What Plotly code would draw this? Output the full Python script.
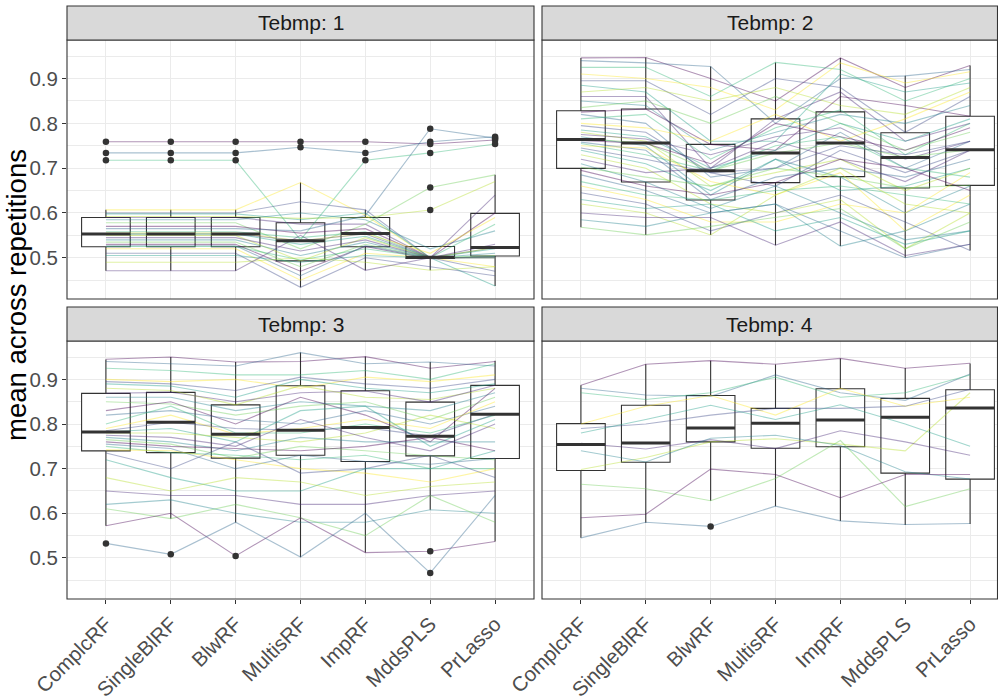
import plotly.graph_objects as go

# ---------------- data ----------------
methods = ["ComplcRF", "SingleBlRF", "BlwRF", "MultisRF", "ImpRF", "MddsPLS", "PrLasso"]
panel_titles = ["Tebmp: 1", "Tebmp: 2", "Tebmp: 3", "Tebmp: 4"]
y_ticks = [0.5, 0.6, 0.7, 0.8, 0.9]

# box statistics per panel (one value per method)
p1_q1 = [0.5246, 0.5246, 0.5246, 0.493, 0.5246, 0.4985, 0.5038]
p1_med = [0.553, 0.553, 0.553, 0.538, 0.554, 0.501, 0.523]
p1_q3 = [0.590, 0.590, 0.590, 0.578, 0.590, 0.525, 0.599]
p1_lo = [0.471, 0.471, 0.471, 0.434, 0.472, 0.472, 0.437]
p1_hi = [0.607, 0.607, 0.607, 0.668, 0.607, 0.525, 0.6855]

p2_q1 = [0.6996, 0.669, 0.629, 0.6676, 0.681, 0.6556, 0.6616]
p2_med = [0.764, 0.756, 0.694, 0.734, 0.756, 0.724, 0.741]
p2_q3 = [0.828, 0.832, 0.753, 0.810, 0.8256, 0.779, 0.816]
p2_lo = [0.568, 0.551, 0.551, 0.528, 0.526, 0.500, 0.516]
p2_hi = [0.946, 0.947, 0.927, 0.936, 0.946, 0.906, 0.929]

p3_q1 = [0.7398, 0.736, 0.7235, 0.730, 0.716, 0.7286, 0.7226]
p3_med = [0.7822, 0.804, 0.777, 0.786, 0.792, 0.7726, 0.822]
p3_q3 = [0.8687, 0.871, 0.843, 0.8857, 0.8745, 0.849, 0.8866]
p3_lo = [0.5722, 0.588, 0.5796, 0.5014, 0.512, 0.608, 0.537]
p3_hi = [0.9447, 0.950, 0.939, 0.960, 0.951, 0.939, 0.9416]

p4_q1 = [0.6958, 0.7145, 0.760, 0.7458, 0.749, 0.690, 0.6765]
p4_med = [0.7539, 0.7577, 0.791, 0.8017, 0.809, 0.815, 0.836]
p4_q3 = [0.8008, 0.842, 0.864, 0.835, 0.879, 0.8575, 0.8768]
p4_lo = [0.5454, 0.579, 0.628, 0.616, 0.583, 0.5737, 0.576]
p4_hi = [0.8866, 0.934, 0.9416, 0.9335, 0.947, 0.9253, 0.9357]

# outliers (method, value)
p1_out_x = ["ComplcRF"] * 3 + ["SingleBlRF"] * 3 + ["BlwRF"] * 3 + ["MultisRF"] * 2 + ["ImpRF"] * 3 + ["MddsPLS"] * 6 + ["PrLasso"] * 4
p1_out_y = [0.759, 0.734, 0.7175, 0.759, 0.734, 0.7175, 0.759, 0.734, 0.7175, 0.759, 0.7465,
            0.759, 0.734, 0.7175, 0.788, 0.759, 0.754, 0.734, 0.657, 0.6066, 0.770, 0.767, 0.763, 0.754]
p2_out_x = []
p2_out_y = []
p3_out_x = ["ComplcRF", "SingleBlRF", "BlwRF", "MddsPLS", "MddsPLS"]
p3_out_y = [0.5326, 0.508, 0.5045, 0.515, 0.4665]
p4_out_x = ["BlwRF"]
p4_out_y = [0.5706]

# per-dataset lines (values for the 7 methods)
p1_lines = [
    [0.759, 0.759, 0.759, 0.759, 0.759, 0.754, 0.763],
    [0.734, 0.734, 0.734, 0.7465, 0.734, 0.759, 0.770],
    [0.7175, 0.7175, 0.7175, 0.540, 0.7175, 0.734, 0.754],
    [0.607, 0.607, 0.607, 0.668, 0.595, 0.500, 0.480],
    [0.600, 0.600, 0.600, 0.625, 0.607, 0.500, 0.470],
    [0.598, 0.598, 0.598, 0.585, 0.600, 0.500, 0.437],
    [0.592, 0.592, 0.592, 0.588, 0.590, 0.6066, 0.670],
    [0.590, 0.590, 0.590, 0.575, 0.575, 0.500, 0.640],
    [0.585, 0.585, 0.585, 0.600, 0.585, 0.520, 0.560],
    [0.578, 0.578, 0.578, 0.520, 0.575, 0.657, 0.685],
    [0.570, 0.570, 0.570, 0.555, 0.565, 0.500, 0.600],
    [0.565, 0.565, 0.565, 0.560, 0.594, 0.788, 0.767],
    [0.558, 0.558, 0.558, 0.545, 0.558, 0.500, 0.575],
    [0.555, 0.555, 0.555, 0.538, 0.554, 0.510, 0.590],
    [0.553, 0.553, 0.553, 0.538, 0.553, 0.500, 0.523],
    [0.553, 0.553, 0.553, 0.530, 0.548, 0.500, 0.520],
    [0.550, 0.550, 0.550, 0.493, 0.545, 0.500, 0.523],
    [0.545, 0.545, 0.545, 0.515, 0.540, 0.500, 0.530],
    [0.540, 0.540, 0.540, 0.505, 0.535, 0.500, 0.510],
    [0.535, 0.535, 0.535, 0.480, 0.530, 0.500, 0.505],
    [0.530, 0.530, 0.530, 0.470, 0.525, 0.498, 0.503],
    [0.527, 0.527, 0.527, 0.460, 0.527, 0.500, 0.500],
    [0.525, 0.525, 0.525, 0.495, 0.520, 0.500, 0.503],
    [0.520, 0.520, 0.520, 0.450, 0.510, 0.500, 0.500],
    [0.510, 0.510, 0.510, 0.434, 0.500, 0.480, 0.460],
    [0.505, 0.505, 0.505, 0.490, 0.505, 0.500, 0.500],
    [0.490, 0.490, 0.490, 0.500, 0.490, 0.472, 0.480],
    [0.471, 0.471, 0.471, 0.550, 0.472, 0.500, 0.500],
]

p2_lines = [
    [0.946, 0.947, 0.900, 0.850, 0.946, 0.880, 0.929],
    [0.940, 0.935, 0.927, 0.800, 0.900, 0.906, 0.920],
    [0.925, 0.925, 0.860, 0.936, 0.920, 0.850, 0.900],
    [0.910, 0.900, 0.880, 0.830, 0.935, 0.890, 0.915],
    [0.895, 0.895, 0.820, 0.900, 0.880, 0.780, 0.860],
    [0.885, 0.870, 0.760, 0.760, 0.910, 0.870, 0.890],
    [0.870, 0.880, 0.850, 0.880, 0.840, 0.820, 0.880],
    [0.860, 0.860, 0.700, 0.810, 0.870, 0.760, 0.800],
    [0.850, 0.840, 0.740, 0.780, 0.820, 0.800, 0.840],
    [0.835, 0.850, 0.800, 0.860, 0.800, 0.740, 0.780],
    [0.825, 0.832, 0.753, 0.740, 0.860, 0.840, 0.816],
    [0.820, 0.800, 0.680, 0.700, 0.780, 0.700, 0.760],
    [0.810, 0.820, 0.720, 0.790, 0.830, 0.730, 0.800],
    [0.800, 0.790, 0.760, 0.820, 0.760, 0.810, 0.870],
    [0.795, 0.780, 0.690, 0.660, 0.740, 0.690, 0.740],
    [0.785, 0.770, 0.700, 0.740, 0.800, 0.760, 0.810],
    [0.780, 0.760, 0.660, 0.690, 0.720, 0.650, 0.700],
    [0.775, 0.765, 0.730, 0.770, 0.790, 0.720, 0.760],
    [0.770, 0.750, 0.640, 0.720, 0.680, 0.600, 0.660],
    [0.766, 0.756, 0.694, 0.734, 0.756, 0.724, 0.741],
    [0.762, 0.755, 0.710, 0.800, 0.770, 0.740, 0.790],
    [0.758, 0.740, 0.630, 0.680, 0.700, 0.680, 0.720],
    [0.755, 0.730, 0.694, 0.750, 0.770, 0.700, 0.680],
    [0.750, 0.745, 0.670, 0.640, 0.690, 0.560, 0.640],
    [0.745, 0.720, 0.690, 0.700, 0.750, 0.730, 0.760],
    [0.740, 0.710, 0.650, 0.720, 0.650, 0.660, 0.700],
    [0.730, 0.700, 0.620, 0.600, 0.630, 0.520, 0.600],
    [0.720, 0.690, 0.700, 0.760, 0.720, 0.670, 0.740],
    [0.710, 0.669, 0.610, 0.660, 0.600, 0.540, 0.560],
    [0.702, 0.680, 0.660, 0.700, 0.681, 0.656, 0.662],
    [0.695, 0.660, 0.640, 0.668, 0.720, 0.700, 0.650],
    [0.685, 0.650, 0.600, 0.620, 0.560, 0.500, 0.530],
    [0.670, 0.640, 0.629, 0.650, 0.660, 0.640, 0.620],
    [0.660, 0.630, 0.580, 0.580, 0.620, 0.600, 0.690],
    [0.645, 0.620, 0.560, 0.600, 0.640, 0.580, 0.516],
    [0.630, 0.610, 0.620, 0.560, 0.590, 0.530, 0.560],
    [0.620, 0.600, 0.551, 0.640, 0.700, 0.620, 0.600],
    [0.600, 0.590, 0.590, 0.528, 0.580, 0.505, 0.530],
    [0.585, 0.570, 0.600, 0.620, 0.526, 0.560, 0.620],
    [0.568, 0.551, 0.570, 0.590, 0.610, 0.520, 0.580],
]

p3_lines = [
    [0.945, 0.950, 0.939, 0.940, 0.951, 0.925, 0.940],
    [0.940, 0.935, 0.930, 0.960, 0.935, 0.939, 0.930],
    [0.925, 0.920, 0.910, 0.910, 0.920, 0.900, 0.935],
    [0.900, 0.895, 0.900, 0.880, 0.905, 0.895, 0.910],
    [0.895, 0.890, 0.875, 0.905, 0.890, 0.880, 0.900],
    [0.890, 0.885, 0.860, 0.900, 0.880, 0.870, 0.890],
    [0.880, 0.875, 0.843, 0.886, 0.860, 0.855, 0.880],
    [0.869, 0.871, 0.850, 0.870, 0.874, 0.849, 0.887],
    [0.860, 0.860, 0.830, 0.850, 0.840, 0.830, 0.870],
    [0.850, 0.845, 0.820, 0.840, 0.850, 0.810, 0.860],
    [0.830, 0.850, 0.800, 0.860, 0.820, 0.760, 0.880],
    [0.820, 0.830, 0.810, 0.800, 0.830, 0.800, 0.840],
    [0.800, 0.840, 0.780, 0.780, 0.800, 0.780, 0.820],
    [0.790, 0.820, 0.777, 0.790, 0.810, 0.790, 0.850],
    [0.785, 0.804, 0.790, 0.786, 0.792, 0.773, 0.822],
    [0.782, 0.790, 0.760, 0.830, 0.840, 0.750, 0.810],
    [0.780, 0.780, 0.770, 0.760, 0.780, 0.820, 0.790],
    [0.775, 0.770, 0.750, 0.810, 0.770, 0.740, 0.800],
    [0.770, 0.760, 0.740, 0.770, 0.760, 0.760, 0.760],
    [0.765, 0.755, 0.724, 0.750, 0.740, 0.729, 0.720],
    [0.760, 0.750, 0.745, 0.740, 0.750, 0.770, 0.740],
    [0.755, 0.745, 0.700, 0.730, 0.716, 0.710, 0.723],
    [0.750, 0.736, 0.730, 0.720, 0.730, 0.700, 0.700],
    [0.742, 0.740, 0.720, 0.700, 0.690, 0.670, 0.700],
    [0.735, 0.700, 0.760, 0.690, 0.700, 0.730, 0.680],
    [0.720, 0.680, 0.650, 0.650, 0.700, 0.700, 0.740],
    [0.680, 0.650, 0.680, 0.670, 0.640, 0.660, 0.670],
    [0.650, 0.640, 0.640, 0.620, 0.620, 0.640, 0.650],
    [0.620, 0.630, 0.600, 0.580, 0.580, 0.608, 0.600],
    [0.610, 0.588, 0.620, 0.590, 0.550, 0.640, 0.580],
    [0.572, 0.600, 0.5045, 0.590, 0.512, 0.515, 0.537],
    [0.5326, 0.508, 0.580, 0.502, 0.600, 0.4665, 0.640],
]

p4_lines = [
    [0.887, 0.934, 0.942, 0.934, 0.947, 0.925, 0.936],
    [0.880, 0.865, 0.862, 0.910, 0.870, 0.853, 0.912],
    [0.870, 0.855, 0.870, 0.905, 0.860, 0.870, 0.910],
    [0.800, 0.840, 0.864, 0.820, 0.880, 0.840, 0.860],
    [0.790, 0.800, 0.820, 0.835, 0.835, 0.840, 0.878],
    [0.780, 0.810, 0.842, 0.810, 0.843, 0.800, 0.750],
    [0.698, 0.725, 0.760, 0.767, 0.755, 0.740, 0.870],
    [0.757, 0.744, 0.765, 0.745, 0.785, 0.760, 0.730],
    [0.740, 0.715, 0.768, 0.775, 0.752, 0.693, 0.677],
    [0.665, 0.655, 0.628, 0.678, 0.763, 0.615, 0.655],
    [0.590, 0.598, 0.699, 0.687, 0.635, 0.687, 0.687],
    [0.545, 0.580, 0.5706, 0.616, 0.583, 0.575, 0.577],
]

viridis = ["#440154", "#482878", "#3E4A89", "#31688E", "#26828E",
           "#1F9E89", "#35B779", "#6DCD59", "#B4DE2C", "#FDE725"]

# ---------------- layout geometry (pixels) ----------------
W, H = 998, 700
col_x = [(67, 534), (542, 997.5)]
row_y = [(40, 299), (341, 599)]
strip_h = 34
px_per_cat = 467 / 7.2
FONT = "Liberation Sans, Arial, sans-serif"


def px_x(v):
    return v / W


def px_y(v):
    return 1 - v / H


def rgba(hx, a):
    hx = hx.lstrip("#")
    r, g, b = int(hx[0:2], 16), int(hx[2:4], 16), int(hx[4:6], 16)
    return f"rgba({r},{g},{b},{a})"


panels = [
    dict(q1=p1_q1, med=p1_med, q3=p1_q3, lo=p1_lo, hi=p1_hi, ox=p1_out_x, oy=p1_out_y, lines=p1_lines),
    dict(q1=p2_q1, med=p2_med, q3=p2_q3, lo=p2_lo, hi=p2_hi, ox=p2_out_x, oy=p2_out_y, lines=p2_lines),
    dict(q1=p3_q1, med=p3_med, q3=p3_q3, lo=p3_lo, hi=p3_hi, ox=p3_out_x, oy=p3_out_y, lines=p3_lines),
    dict(q1=p4_q1, med=p4_med, q3=p4_q3, lo=p4_lo, hi=p4_hi, ox=p4_out_x, oy=p4_out_y, lines=p4_lines),
]

fig = go.Figure()
dark = "#333333"
shapes = []
annotations = []
layout_axes = {}

for i, p in enumerate(panels):
    n = i + 1
    xa = "x" if n == 1 else f"x{n}"
    ya = "y" if n == 1 else f"y{n}"
    col = i % 2
    row = i // 2
    x0, x1 = col_x[col]
    y0, y1 = row_y[row]

    fig.add_trace(go.Box(
        x=methods, q1=p["q1"], median=p["med"], q3=p["q3"],
        lowerfence=p["lo"], upperfence=p["hi"], boxpoints=False,
        fillcolor="white", line=dict(color=dark, width=1.1),
        whiskerwidth=0, width=0.75, xaxis=xa, yaxis=ya,
        showlegend=False, hoverinfo="skip"))

    for k, vals in enumerate(p["lines"]):
        c = viridis[(k * 3) % len(viridis)]
        fig.add_trace(go.Scatter(
            x=methods, y=vals, mode="lines",
            line=dict(color=rgba(c, 0.42), width=1.1),
            xaxis=xa, yaxis=ya, showlegend=False, hoverinfo="skip"))

    fig.add_trace(go.Scatter(
        x=methods, y=p["med"], mode="markers",
        marker=dict(symbol="line-ew", size=0.75 * px_per_cat / 1.4,
                    line=dict(color=dark, width=3)),
        xaxis=xa, yaxis=ya, showlegend=False, hoverinfo="skip"))

    if p["ox"]:
        fig.add_trace(go.Scatter(
            x=p["ox"], y=p["oy"], mode="markers",
            marker=dict(color=dark, size=6.5),
            xaxis=xa, yaxis=ya, showlegend=False, hoverinfo="skip"))

    xr_hi = -0.6 + (x1 - x0) / px_per_cat
    layout_axes["xaxis" if n == 1 else f"xaxis{n}"] = dict(
        domain=[px_x(x0), px_x(x1)], anchor=ya,
        type="category", categoryorder="array", categoryarray=methods,
        range=[-0.6, xr_hi], showgrid=True, gridcolor="#EBEBEB", gridwidth=1.07,
        zeroline=False, showline=False, automargin=False,
        ticks="outside" if row == 1 else "", ticklen=4, tickwidth=1.07, tickcolor=dark,
        showticklabels=(row == 1), tickangle=-45,
        tickfont=dict(family=FONT, size=20.5, color="#4D4D4D"))
    layout_axes["yaxis" if n == 1 else f"yaxis{n}"] = dict(
        domain=[px_y(y1), px_y(y0)], anchor=xa,
        range=[0.408, 0.986], tickmode="array", tickvals=y_ticks,
        ticktext=[f"{v:.1f}" for v in y_ticks],
        showgrid=True, gridcolor="#EBEBEB", gridwidth=1.07,
        minor=dict(tickmode="linear", tick0=0.45, dtick=0.1, showgrid=True,
                   gridcolor="#EBEBEB", gridwidth=0.55, ticks=""),
        zeroline=False, showline=False, automargin=False,
        ticks="outside" if col == 0 else "", ticklen=4, tickwidth=1.07, tickcolor=dark,
        showticklabels=(col == 0),
        tickfont=dict(family=FONT, size=20.5, color="#4D4D4D"))

    # panel border
    shapes.append(dict(type="rect", xref="paper", yref="paper",
                       x0=px_x(x0), x1=px_x(x1), y0=px_y(y1), y1=px_y(y0),
                       line=dict(color=dark, width=1.1), fillcolor="rgba(0,0,0,0)", layer="above"))
    # strip
    shapes.append(dict(type="rect", xref="paper", yref="paper",
                       x0=px_x(x0), x1=px_x(x1), y0=px_y(y0), y1=px_y(y0 - strip_h),
                       line=dict(color=dark, width=1.1), fillcolor="#D9D9D9", layer="above"))
    annotations.append(dict(text=panel_titles[i], xref="paper", yref="paper",
                            x=px_x((x0 + min(x1, x0 + 467)) / 2), y=px_y(y0 - strip_h / 2),
                            showarrow=False, xanchor="center", yanchor="middle",
                            font=dict(family=FONT, size=21, color="#1A1A1A")))

annotations.append(dict(text="mean across repetitions", xref="paper", yref="paper",
                        x=px_x(16), y=px_y(295), textangle=-90, showarrow=False,
                        xanchor="center", yanchor="middle",
                        font=dict(family=FONT, size=27.5, color="black")))

fig.update_layout(
    width=W, height=H, margin=dict(l=0, r=0, t=0, b=0),
    paper_bgcolor="white", plot_bgcolor="white",
    showlegend=False, shapes=shapes, annotations=annotations,
    **layout_axes)

fig.write_html("out.html", config={"displayModeBar": False},
               post_script="document.body.style.margin='0';document.body.style.overflow='hidden';")
